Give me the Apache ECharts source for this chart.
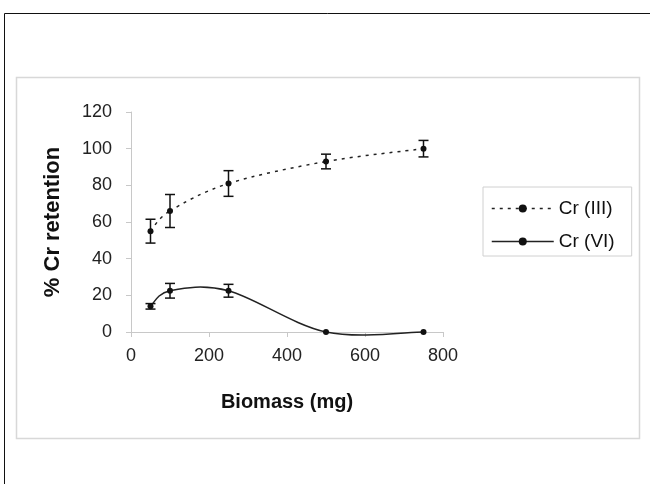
<!DOCTYPE html>
<html>
<head>
<meta charset="utf-8">
<script src="https://cdn.jsdelivr.net/npm/echarts@6/dist/echarts.min.js"></script>
<style>
  html, body { margin: 0; padding: 0; background: #fff; }
  #chart1 { width: 650px; height: 484px; }
</style>
</head>
<body>
<div id="chart1"></div>
<script>
// biomass doses (mg)
var biomass = [50, 100, 250, 500, 750];
// % retention
var crIII = [55, 66, 81, 93, 100];
var crIIIErr = [6.5, 9, 7, 4, 4.5];
var crVI = [14, 22.5, 22.5, 0, 0];
var crVIErr = [1.5, 4, 3.5, 0, 0];

var yTicks = { min: 0, max: 120, interval: 20 };
var xTicks = { min: 0, max: 800, interval: 200 };

var FONT = 'Liberation Sans, Arial, sans-serif';
var dashIII = [3, 5];

var chart = echarts.init(document.getElementById('chart1'));

function pairs(xs, ys) {
    return xs.map(function (x, i) { return [x, ys[i]]; });
}
function errData(xs, ys, es) {
    return xs.map(function (x, i) { return [x, ys[i] - es[i], ys[i] + es[i]]; });
}
function errBar(params, api) {
    var lo = api.coord([api.value(0), api.value(1)]);
    var hi = api.coord([api.value(0), api.value(2)]);
    if (hi[1] === lo[1]) return null;
    var w = 5;
    var st = { stroke: '#111', lineWidth: 1.5 };
    return {
        type: 'group',
        children: [
            { type: 'line', shape: { x1: lo[0], y1: lo[1], x2: hi[0], y2: hi[1] }, style: st },
            { type: 'line', shape: { x1: lo[0] - w, y1: lo[1], x2: lo[0] + w, y2: lo[1] }, style: st },
            { type: 'line', shape: { x1: hi[0] - w, y1: hi[1], x2: hi[0] + w, y2: hi[1] }, style: st }
        ]
    };
}

// excel-like smoothed line (catmull-rom), one bezier segment per data item
function smoothLine(lineType) {
    return function (params, api) {
        var i = params.dataIndexInside;
        var n = params.dataInsideLength;
        if (i >= n - 1) return null;
        function pt(k) {
            k = Math.max(0, Math.min(n - 1, k));
            return api.coord([api.value(0, k), api.value(1, k)]);
        }
        var p0 = pt(i - 1), p1 = pt(i), p2 = pt(i + 1), p3 = pt(i + 2);
        var c1 = [p1[0] + (p2[0] - p0[0]) / 6, p1[1] + (p2[1] - p0[1]) / 6];
        var c2 = [p2[0] - (p3[0] - p1[0]) / 6, p2[1] - (p3[1] - p1[1]) / 6];
        return {
            type: 'bezierCurve',
            shape: { x1: p1[0], y1: p1[1], x2: p2[0], y2: p2[1],
                     cpx1: c1[0], cpy1: c1[1], cpx2: c2[0], cpy2: c2[1] },
            style: { stroke: '#222', lineWidth: 1.5, fill: null, lineDash: lineType }
        };
    };
}

var option = {
    backgroundColor: '#fff',
    animation: false,
    graphic: [
        { type: 'rect', shape: { x: 4.5, y: 13.5, width: 700, height: 500 },
          style: { fill: 'none', stroke: '#111', lineWidth: 1 } },
        { type: 'rect', shape: { x: 16.5, y: 77.5, width: 623, height: 361 },
          style: { fill: 'none', stroke: '#d8d8d8', lineWidth: 1.5 } }
    ],
    grid: { left: 131, top: 112, right: 207, bottom: 152 },
    legend: {
        orient: 'vertical',
        left: 483,
        top: 187,
        padding: [12, 17, 5, 8],
        itemGap: 14,
        itemWidth: 62,
        itemHeight: 10,
        borderColor: '#d0d0d0',
        borderWidth: 1,
        data: [
            { name: 'Cr (III)', lineStyle: { opacity: 1, color: '#222', width: 1.5, type: dashIII } },
            { name: 'Cr (VI)', lineStyle: { opacity: 1, color: '#222', width: 1.5, type: 'solid' } }
        ],
        textStyle: { fontFamily: FONT, fontSize: 19, color: '#111' }
    },
    xAxis: {
        type: 'value',
        min: xTicks.min, max: xTicks.max, interval: xTicks.interval,
        name: 'Biomass (mg)',
        nameLocation: 'middle',
        nameGap: 60,
        nameTextStyle: { fontFamily: FONT, fontSize: 20, fontWeight: 'bold', color: '#111' },
        axisLine: { lineStyle: { color: '#c8c8c8' } },
        axisTick: { show: true, length: 5, lineStyle: { color: '#c8c8c8' } },
        axisLabel: { margin: 15, fontFamily: FONT, fontSize: 18, color: '#222' },
        splitLine: { show: false }
    },
    yAxis: {
        type: 'value',
        min: yTicks.min, max: yTicks.max, interval: yTicks.interval,
        name: '% Cr retention',
        nameLocation: 'middle',
        nameGap: 67,
        nameTextStyle: { fontFamily: FONT, fontSize: 22, fontWeight: 'bold', color: '#111' },
        axisLine: { show: true, lineStyle: { color: '#c8c8c8' } },
        axisTick: { show: true, length: 5, lineStyle: { color: '#c8c8c8' } },
        axisLabel: { margin: 19, fontFamily: FONT, fontSize: 18, color: '#222' },
        splitLine: { show: false }
    },
    series: [{
        name: 'Cr (III)',
        type: 'line',
        data: pairs(biomass, crIII),
        symbol: 'circle',
        symbolSize: 6,
        itemStyle: { color: '#111' },
        lineStyle: { color: '#222', width: 1.5, type: dashIII, opacity: 0 },
        z: 5
    }, {
        name: 'Cr (VI)',
        type: 'line',
        data: pairs(biomass, crVI),
        symbol: 'circle',
        symbolSize: 6,
        itemStyle: { color: '#111' },
        lineStyle: { color: '#222', width: 1.5, opacity: 0 },
        z: 5
    }, {
        type: 'custom',
        renderItem: smoothLine(dashIII),
        data: pairs(biomass, crIII),
        z: 3
    }, {
        type: 'custom',
        renderItem: smoothLine(null),
        data: pairs(biomass, crVI),
        z: 3
    }, {
        type: 'custom',
        renderItem: errBar,
        data: errData(biomass, crIII, crIIIErr),
        z: 4
    }, {
        type: 'custom',
        renderItem: errBar,
        data: errData(biomass, crVI, crVIErr),
        z: 4
    }]
};

chart.setOption(option);
</script>
</body>
</html>
